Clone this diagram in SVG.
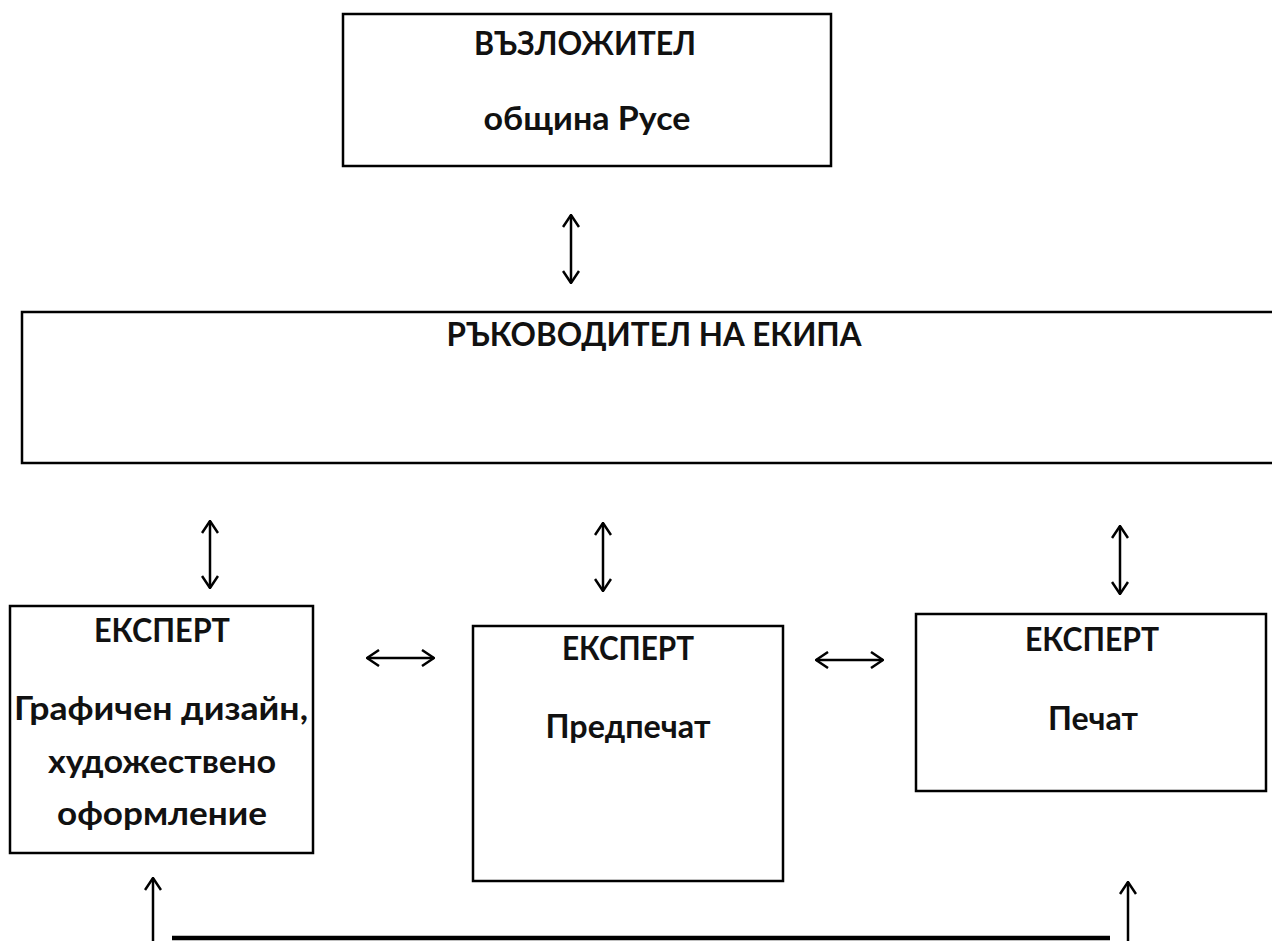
<svg xmlns="http://www.w3.org/2000/svg" width="1272" height="941" viewBox="0 0 1272 941">
<style>
.box{fill:#fff;stroke:#000;stroke-width:2.5}
.t{font-family:Lato,"Open Sans","Noto Sans",sans-serif;font-weight:bold;font-size:32px;fill:#111;text-anchor:middle}
.c{fill:none;stroke:#000;stroke-width:2.5}
</style>
<defs>
<marker id="ah" viewBox="0 0 14 18" refX="13" refY="9" markerWidth="14" markerHeight="18" markerUnits="userSpaceOnUse" orient="auto-start-reverse">
<path d="M1,1 L13,9 L1,17" fill="none" stroke="#000" stroke-width="2.5"/>
</marker>
</defs>
<rect width="1272" height="941" fill="#fff"/>
<g id="vazlozhitel">
<rect class="box" x="343" y="14" width="488" height="152"/>
<text class="t" x="585" y="55" textLength="222" lengthAdjust="spacingAndGlyphs">ВЪЗЛОЖИТЕЛ</text>
<text class="t" x="587" y="130" textLength="207" lengthAdjust="spacingAndGlyphs">община Русе</text>
</g>
<g id="rakovoditel">
<rect class="box" x="22" y="312" width="1262" height="151"/>
<text class="t" x="654" y="346" textLength="415" lengthAdjust="spacingAndGlyphs">РЪКОВОДИТЕЛ НА ЕКИПА</text>
</g>
<g id="expert1">
<rect class="box" x="10" y="606" width="303" height="247"/>
<text class="t" x="162" y="642" textLength="136" lengthAdjust="spacingAndGlyphs">ЕКСПЕРТ</text>
<text class="t" x="161" y="720" textLength="294" lengthAdjust="spacingAndGlyphs">Графичен дизайн,</text>
<text class="t" x="162" y="773" textLength="228" lengthAdjust="spacingAndGlyphs">художествено</text>
<text class="t" x="162" y="825" textLength="210" lengthAdjust="spacingAndGlyphs">оформление</text>
</g>
<g id="expert2">
<rect class="box" x="473" y="626" width="310" height="255"/>
<text class="t" x="628" y="660" textLength="132" lengthAdjust="spacingAndGlyphs">ЕКСПЕРТ</text>
<text class="t" x="628" y="738" textLength="165" lengthAdjust="spacingAndGlyphs">Предпечат</text>
</g>
<g id="expert3">
<rect class="box" x="916" y="614" width="350" height="177"/>
<text class="t" x="1092" y="651" textLength="134" lengthAdjust="spacingAndGlyphs">ЕКСПЕРТ</text>
<text class="t" x="1093" y="730" textLength="90" lengthAdjust="spacingAndGlyphs">Печат</text>
</g>
<g id="connectors">
<line class="c" x1="571" y1="215" x2="571" y2="283" marker-start="url(#ah)" marker-end="url(#ah)"/>
<line class="c" x1="210" y1="521" x2="210" y2="588" marker-start="url(#ah)" marker-end="url(#ah)"/>
<line class="c" x1="603" y1="523" x2="603" y2="591" marker-start="url(#ah)" marker-end="url(#ah)"/>
<line class="c" x1="1120" y1="526" x2="1120" y2="594" marker-start="url(#ah)" marker-end="url(#ah)"/>
<line class="c" x1="367" y1="658" x2="434" y2="658" marker-start="url(#ah)" marker-end="url(#ah)"/>
<line class="c" x1="816" y1="660" x2="883" y2="660" marker-start="url(#ah)" marker-end="url(#ah)"/>
<line class="c" x1="153" y1="941" x2="153" y2="878" marker-end="url(#ah)"/>
<line class="c" x1="1128" y1="941" x2="1128" y2="882" marker-end="url(#ah)"/>
<line x1="172" y1="938" x2="1110" y2="938" stroke="#000" stroke-width="4.5"/>
</g>
</svg>
